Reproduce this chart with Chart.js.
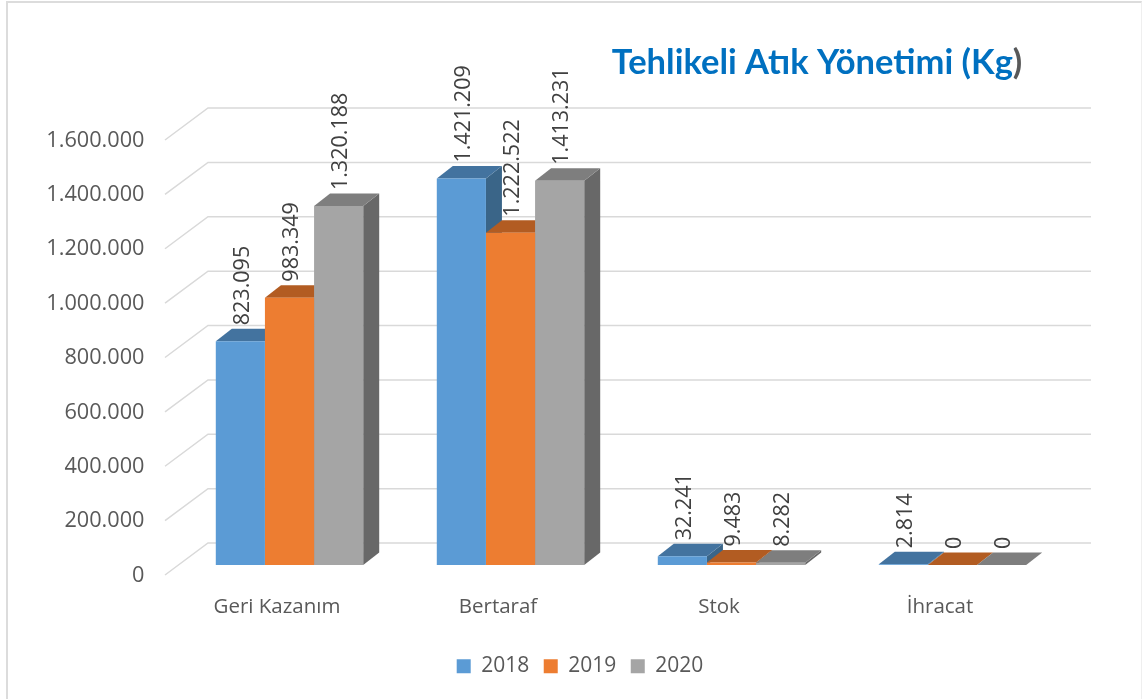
<!DOCTYPE html>
<html>
<head>
<meta charset="utf-8">
<style>
html,body{margin:0;padding:0;background:#fff;width:1144px;height:699px;overflow:hidden}
#frame{position:absolute;left:6px;top:1px;width:1136px;height:700px;border-left:2px solid #dcdcdc;border-top:2px solid #dcdcdc;border-right:1px solid #efefef;box-sizing:border-box}
canvas{position:absolute;left:0;top:0}
</style>
<script src="https://cdn.jsdelivr.net/npm/chart.js@4"></script>
</head>
<body>
<div id="frame"></div>
<canvas id="c" width="1144" height="699"></canvas>
<script>
const categories = ['Geri Kazanım', 'Bertaraf', 'Stok', 'İhracat'];
const seriesNames = ['2018', '2019', '2020'];
const values2018 = [823095, 1421209, 32241, 2814];
const values2019 = [983349, 1222522, 9483, 0];
const values2020 = [1320188, 1413231, 8282, 0];
const frontColors = ['#5B9BD5', '#ED7D31', '#A5A5A5'];
const topColors = ['#43739F', '#B25C22', '#7E7E7E'];
const sideColors = ['#3A6588', '#A0521E', '#686868'];
const titleText = 'Tehlikeli Atık Yönetimi (Kg)';

const BAR_DX = 12.5, BAR_DY = -10.5;       // bars stand inside the 3D floor
const DEPTH_X = 16, DEPTH_Y = -12.5;       // bar depth
const WALL_X = 43, WALL_Y = -32, GRID_FRONT = -0.5; // wall geometry
const GRID_RIGHT = 1091;
const TARGET = {left: 166.5, right: 1050.5, top: 140.5, bottom: 575.5};

const fmt = v => String(v).replace(/\B(?=(\d{3})+$)/g, '.');

const canvas = document.getElementById('c');
const ctx0 = canvas.getContext('2d');
// title text is drawn with its origin at the title centre, so the stop is relative to it
const titleGrad = ctx0.createLinearGradient(196, 0, 197, 0);
titleGrad.addColorStop(0, '#0070C0');
titleGrad.addColorStop(0.999, '#0070C0');
titleGrad.addColorStop(1, '#595959');

function poly(ctx, pts, color) {
  ctx.beginPath();
  pts.forEach((p, i) => i ? ctx.lineTo(p[0], p[1]) : ctx.moveTo(p[0], p[1]));
  ctx.closePath();
  ctx.fillStyle = color;
  ctx.fill();
}

const placeBlocks = {
  id: 'placeBlocks',
  afterLayout(chart) {
    const t = chart.titleBlock, l = chart.legend;
    if (t) { const h = t.height; t.top = 63 - h / 2; t.bottom = t.top + h; t.left = 817 - 300; t.right = 817 + 300; }
    if (l) { const w = l.width, h = l.height; l.left = 580 - w / 2; l.right = 580 + w / 2; l.top = 664 - h / 2; l.bottom = l.top + h; }
  }
};

const box3d = {
  id: 'box3d',
  beforeDatasetsDraw(chart) {
    const ctx = chart.ctx, y = chart.scales.y;
    ctx.save();
    ctx.strokeStyle = '#D9D9D9';
    ctx.lineWidth = 1.5;
    y.ticks.forEach(t => {
      const p = y.getPixelForValue(t.value);
      const fy = p + GRID_FRONT, fx = 165;
      ctx.beginPath();
      ctx.moveTo(fx, fy);
      ctx.lineTo(fx + WALL_X, fy + WALL_Y);
      ctx.lineTo(GRID_RIGHT, fy + WALL_Y);
      ctx.stroke();
    });
    ctx.restore();
    ctx.save();
    ctx.translate(BAR_DX, BAR_DY);
    categories.forEach((_, i) => {
      seriesNames.forEach((_, s) => {
        const b = chart.getDatasetMeta(s).data[i];
        const x0 = b.x - b.width / 2, x1 = b.x + b.width / 2, yt = b.y, yb = b.base;
        poly(ctx, [[x1, yt], [x1 + DEPTH_X, yt + DEPTH_Y], [x1 + DEPTH_X, yb + DEPTH_Y], [x1, yb]], sideColors[s]);
        poly(ctx, [[x0, yt], [x0 + DEPTH_X, yt + DEPTH_Y], [x1 + DEPTH_X, yt + DEPTH_Y], [x1, yt]], topColors[s]);
      });
    });
  },
  afterDatasetsDraw(chart) {
    const ctx = chart.ctx;
    chart.data.datasets.forEach((ds, s) => {
      chart.getDatasetMeta(s).data.forEach((b, i) => {
        ctx.save();
        ctx.translate(b.x + 2.5, b.y - 16);
        ctx.rotate(-Math.PI / 2);
        ctx.font = '21.5px "Open Sans"';
        ctx.fillStyle = '#404040';
        ctx.textAlign = 'left';
        ctx.textBaseline = 'middle';
        ctx.fillText(fmt(ds.data[i]), 0, 0);
        ctx.restore();
      });
    });
    ctx.restore();
  }
};

const chart = new Chart(canvas, {
  type: 'bar',
  data: {
    labels: categories,
    datasets: [
      {label: seriesNames[0], data: values2018, backgroundColor: frontColors[0], borderWidth: 0, clip: false},
      {label: seriesNames[1], data: values2019, backgroundColor: frontColors[1], borderWidth: 0, clip: false},
      {label: seriesNames[2], data: values2020, backgroundColor: frontColors[2], borderWidth: 0, clip: false}
    ]
  },
  options: {
    responsive: false,
    animation: false,
    layout: {padding: {left: 20, right: 93.5, top: 100, bottom: 10}},
    datasets: {bar: {categoryPercentage: 0.667, barPercentage: 1}},
    scales: {
      x: {
        grid: {display: false, drawTicks: false},
        border: {display: false},
        ticks: {color: '#595959', font: {family: '"Open Sans"', size: 20.5}, padding: 19, maxRotation: 0, autoSkip: false}
      },
      y: {
        min: 0, max: 1600000,
        grid: {display: false, drawTicks: false},
        border: {display: false},
        ticks: {stepSize: 200000, color: '#595959', font: {family: '"Open Sans"', size: 21.7}, padding: 22, callback: v => fmt(v)}
      }
    },
    plugins: {
      title: {display: true, text: titleText, color: titleGrad, padding: 0, font: {family: 'Lato', size: 34.5, weight: 'bold', lineHeight: 1}},
      legend: {
        position: 'bottom',
        labels: {boxWidth: 14, boxHeight: 14, padding: 14.5, color: '#595959', font: {family: '"Open Sans"', size: 21}}
      },
      tooltip: {enabled: false}
    }
  },
  plugins: [placeBlocks, box3d]
});

for (let k = 0; k < 3; k++) {
  const a = chart.chartArea, p = chart.options.layout.padding;
  p.left += TARGET.left - a.left;
  p.right += a.right - TARGET.right;
  p.top += TARGET.top - a.top;
  p.bottom += a.bottom - TARGET.bottom;
  chart.update('none');
}
</script>
</body>
</html>
